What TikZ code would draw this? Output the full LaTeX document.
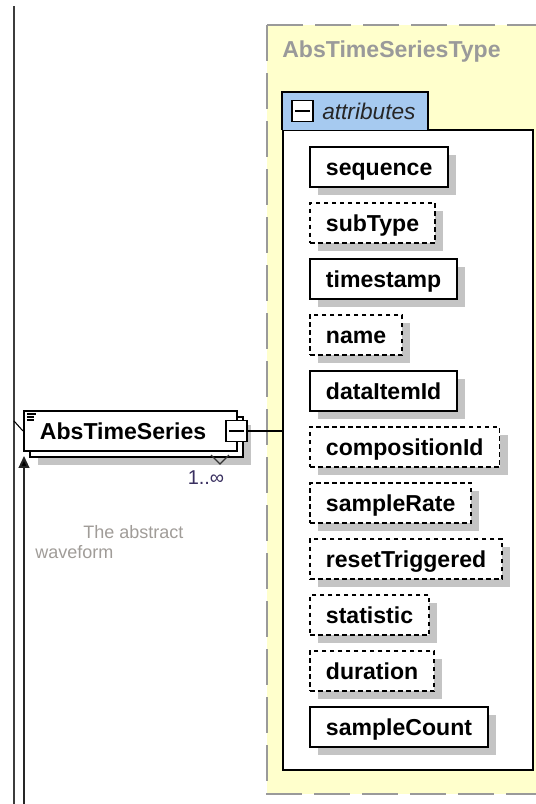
\documentclass[tikz,border=0pt]{standalone}
\usepackage{fontspec}
\setmainfont{Liberation Sans}
\usetikzlibrary{arrows.meta,shadows}
\definecolor{typeyellow}{HTML}{FFFFCC}
\definecolor{typegray}{HTML}{9A9A9A}
\definecolor{tabblue}{HTML}{A6CAF0}
\definecolor{shadowgray}{HTML}{C4C4C4}
\definecolor{busgray}{HTML}{3C3C3C}
\definecolor{occurs}{HTML}{3A3060}
\definecolor{docgray}{HTML}{A09C98}

\begin{document}
\begin{tikzpicture}[x=0.75pt,y=-0.75pt,
    attr/.style={draw=black, fill=white, line width=1.4pt, anchor=west,
      minimum height=30pt, inner xsep=12pt, text height=12.5pt, text depth=0pt,
      font=\fontsize{17.3}{20}\selectfont\bfseries,
      drop shadow={fill=shadowgray, opacity=1, shadow xshift=6pt, shadow yshift=-6pt}},
    optattr/.style={attr, dash pattern=on 3.5pt off 2.5pt},
    bus/.style={draw=busgray, line width=1.5pt},
    iconbox/.style={draw=black, fill=white, line width=1pt, minimum width=15.75pt,
      minimum height=16pt, inner sep=0pt}]
  \useasboundingbox (0,0) rectangle (536,804);

  % complex type frame
  \draw[draw=typegray, fill=typeyellow, line width=2.2pt, dash pattern=on 27pt off 9pt]
    (267,25) rectangle (548,794);
  \node[anchor=west, inner sep=0pt, text=typegray,
    font=\fontsize{17.3}{20}\selectfont\bfseries] (typename) at (282,52) {AbsTimeSeriesType};

  % attribute group
  \node[draw=black, fill=white, line width=1.4pt, anchor=north west,
    minimum width=187.5pt, minimum height=480pt] (attrs) at (282,129) {};
  \filldraw[fill=tabblue, draw=black, line width=1.2pt]
    (282,130) -- (282,92) -- (428,92) -- (428,130);
  \node[iconbox] (attrtoggle) at (302.5,111) {};
  \draw[line width=1pt] ([xshift=3pt]attrtoggle.west) -- ([xshift=-3pt]attrtoggle.east);
  \node[anchor=west, inner sep=0pt, text=black!85,
    font=\fontsize{17}{20}\selectfont\itshape] (attrlabel) at (322,111) {attributes};

  \foreach \name/\kind [count=\i from 0] in {sequence/attr, subType/optattr,
      timestamp/attr, name/optattr, dataItemId/attr, compositionId/optattr,
      sampleRate/optattr, resetTriggered/optattr, statistic/optattr,
      duration/optattr, sampleCount/attr}
    \node[\kind] (\name) at (309,167+56*\i) {\name};

  % element
  \node[draw=black, fill=white, line width=1.4pt, anchor=west,
    minimum width=160pt, minimum height=30pt, inner xsep=12pt, text width=136pt,
    text height=12.5pt, text depth=0pt,
    align=left, font=\fontsize{17.3}{20}\selectfont\bfseries,
    drop shadow={fill=shadowgray, opacity=1, shadow xshift=10.5pt, shadow yshift=-10.5pt},
    copy shadow={draw=black, fill=white, line width=1.4pt, shadow xshift=4.5pt, shadow yshift=-4.5pt}]
    (series) at (23,431) {AbsTimeSeries};
  \foreach \k/\len in {0/9, 1/7, 2/7}
    \draw[line width=0.8pt] (27,414+3*\k) -- (27+\len,414+3*\k);
  \node[iconbox] (seriestoggle) at (236.5,431) {};
  \draw[line width=1pt] ([xshift=3pt]seriestoggle.west) -- ([xshift=-3pt]seriestoggle.east);
  \draw[line width=0.9pt, draw=black!80] (211,455) -- (220,464) -- (229,455);
  \node[text=occurs, inner sep=0pt, font=\fontsize{15}{18}\selectfont] (occurrence)
    at (206,478) {1..∞};

  % documentation
  \node[anchor=west, inner sep=0pt, text=docgray, font=\fontsize{13.5}{16}\selectfont]
    (docline1) at (83,532) {The abstract};
  \node[anchor=west, inner sep=0pt, text=docgray, font=\fontsize{13.5}{16}\selectfont]
    (docline2) at (35,552) {waveform};

  % connectors
  \draw[line width=1pt] (seriestoggle.east) -- (seriestoggle.east -| attrs.west);
  \coordinate (bustop) at (14,6);
  \coordinate (busend) at (14,810);
  \coordinate (busjoin) at (14,421);
  \draw[bus] (bustop) -- (busend);
  \draw[line width=0.8pt] (busjoin) -- (series.west);
  \coordinate (backfoot) at (24,810);
  \draw[bus, draw=black!85, -{Triangle[width=8pt,length=9pt,fill=black]}]
    (backfoot) -- ([shift={(1,4)}]series.south west);
\end{tikzpicture}
\end{document}
